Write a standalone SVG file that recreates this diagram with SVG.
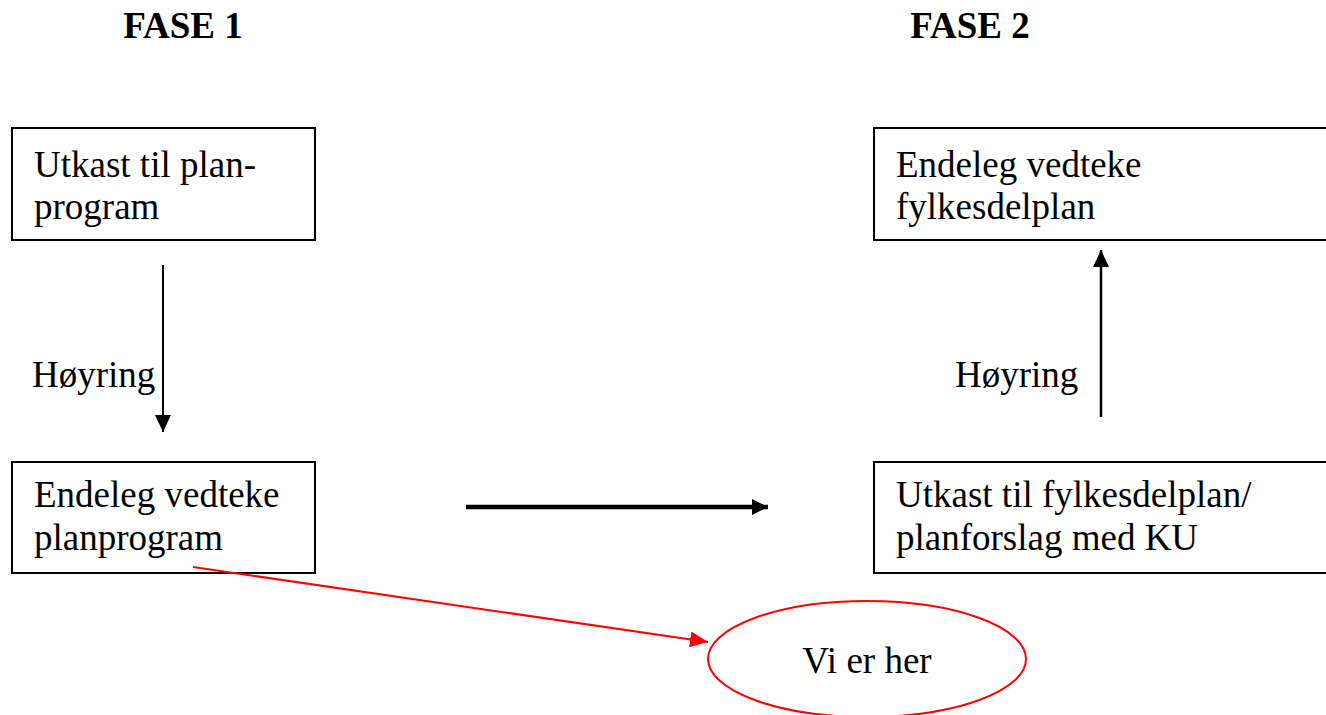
<svg xmlns="http://www.w3.org/2000/svg" width="1326" height="715" viewBox="0 0 1326 715">
<style>
text{font-family:"Liberation Serif","Times New Roman",serif;font-size:37px;fill:#000}
.t{font-weight:bold;font-size:37px}
.box{fill:#fff;stroke:#000;stroke-width:2}
</style>
<defs>
<marker id="ab" markerWidth="17" markerHeight="16" refX="17" refY="8" orient="auto" markerUnits="userSpaceOnUse" viewBox="0 0 17 16"><path d="M0,0L17,8L0,16z" fill="#000"/></marker>
<marker id="abig" markerWidth="16" markerHeight="16" refX="16" refY="8" orient="auto" markerUnits="userSpaceOnUse" viewBox="0 0 16 16"><path d="M0,0L16,8L0,16z" fill="#000"/></marker>
<marker id="ar" markerWidth="18" markerHeight="16" refX="18" refY="8" orient="auto" markerUnits="userSpaceOnUse" viewBox="0 0 18 16"><path d="M0,0L18,8L0,16z" fill="#f00"/></marker>
</defs>
<rect width="1326" height="715" fill="#fff"/>
<text class="t" x="183" y="38" text-anchor="middle">FASE 1</text>
<text class="t" x="970" y="38" text-anchor="middle">FASE 2</text>
<g id="n1"><rect class="box" x="12" y="128" width="303" height="112"/><text x="34" y="177">Utkast til plan-</text><text x="34" y="219">program</text></g>
<g id="n2"><rect class="box" x="12" y="462" width="303" height="111"/><text x="34" y="507">Endeleg vedteke</text><text x="34" y="550">planprogram</text></g>
<g id="n3"><rect class="box" x="874" y="128" width="460" height="112"/><text x="896" y="177">Endeleg vedteke</text><text x="896" y="219">fylkesdelplan</text></g>
<g id="n4"><rect class="box" x="874" y="462" width="460" height="111"/><text x="896" y="507">Utkast til fylkesdelplan/</text><text x="896" y="550">planforslag med KU</text></g>
<g id="n5"><ellipse cx="867" cy="659" rx="159" ry="58" fill="none" stroke="#f00" stroke-width="2"/><text x="867" y="673" text-anchor="middle">Vi er her</text></g>
<g id="labels"><text x="32" y="387">Høyring</text><text x="955" y="387">Høyring</text></g>
<g id="connectors">
<line x1="163" y1="265" x2="163" y2="432" stroke="#000" stroke-width="2" marker-end="url(#ab)"/>
<line x1="1101" y1="417" x2="1101" y2="250" stroke="#000" stroke-width="2.5" marker-end="url(#ab)"/>
<line x1="466" y1="507" x2="768" y2="507" stroke="#000" stroke-width="4.5" marker-end="url(#abig)"/>
<line x1="193" y1="567" x2="708" y2="642" stroke="#f00" stroke-width="2" marker-end="url(#ar)"/>
</g>
</svg>
